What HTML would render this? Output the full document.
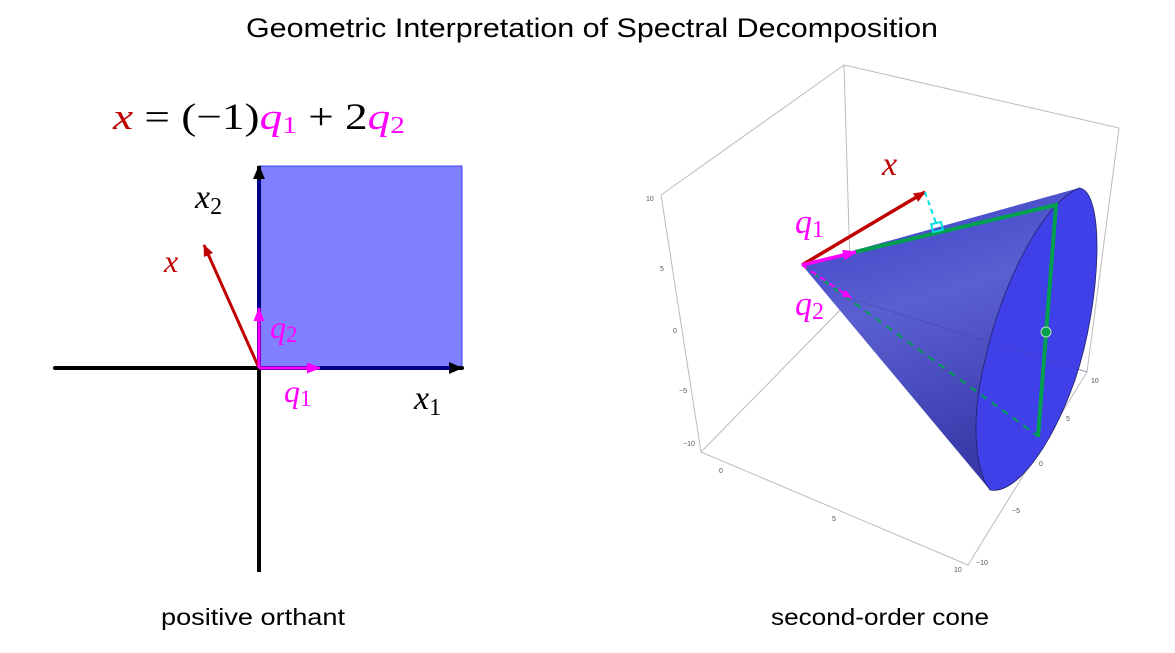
<!DOCTYPE html>
<html><head><meta charset="utf-8"><style>
html,body{margin:0;padding:0;background:#fff;}
svg{display:block;}
.m{font-family:"Liberation Serif",serif;font-style:italic;}
.t{font-family:"Liberation Sans",sans-serif;font-size:7px;fill:#555;}
</style></head><body>
<svg width="1175" height="653" viewBox="0 0 1175 653" xmlns="http://www.w3.org/2000/svg">
<defs>
<marker id="ak" markerWidth="14" markerHeight="12" refX="13" refY="6" orient="auto" markerUnits="userSpaceOnUse"><path d="M0,0 L14,6 L0,12 Z" fill="#000"/></marker>
<marker id="ar" markerWidth="12" markerHeight="10" refX="11" refY="5" orient="auto" markerUnits="userSpaceOnUse"><path d="M0,0 L12,5 L0,10 Z" fill="#c00000"/></marker>
<marker id="am" markerWidth="14" markerHeight="11" refX="13" refY="5.5" orient="auto" markerUnits="userSpaceOnUse"><path d="M0,0 L14,5.5 L0,11 Z" fill="#ff00ff"/></marker>
<marker id="am2" markerWidth="10" markerHeight="8" refX="9" refY="4" orient="auto" markerUnits="userSpaceOnUse"><path d="M0,0 L10,4 L0,8 Z" fill="#ff00ff"/></marker>
<linearGradient id="cg" x1="0" y1="0" x2="0.3" y2="1">
<stop offset="0" stop-color="#3a3fc8"/><stop offset="0.45" stop-color="#5a5fd0"/><stop offset="1" stop-color="#3838a8"/></linearGradient>
</defs>
<text x="246" y="37" font-family="Liberation Sans,sans-serif" font-size="27" textLength="692" lengthAdjust="spacingAndGlyphs">Geometric Interpretation of Spectral Decomposition</text>

<!-- left -->
<text x="113" y="129" font-size="37" font-family="Liberation Serif,serif" textLength="292" lengthAdjust="spacingAndGlyphs"><tspan class="m" fill="#c00000">x</tspan><tspan> = (−1)</tspan><tspan class="m" fill="#ff00ff">q</tspan><tspan fill="#ff00ff" font-size="24" dy="4">1</tspan><tspan dy="-4"> + 2</tspan><tspan class="m" fill="#ff00ff">q</tspan><tspan fill="#ff00ff" font-size="24" dy="4">2</tspan></text>
<rect x="259" y="166" width="203" height="202" fill="#8080ff" stroke="#4040ff" stroke-width="1"/>
<line x1="55" y1="368" x2="462" y2="368" stroke="#000" stroke-width="4" stroke-linecap="round" marker-end="url(#ak)"/>
<line x1="259" y1="368" x2="450" y2="368" stroke="#00008b" stroke-width="4"/>
<line x1="259" y1="572" x2="259" y2="166" stroke="#000" stroke-width="4" marker-end="url(#ak)"/>
<line x1="259" y1="368" x2="259" y2="180" stroke="#00008b" stroke-width="4"/>
<line x1="259" y1="368" x2="204" y2="245" stroke="#c00000" stroke-width="3" marker-end="url(#ar)"/>
<line x1="259" y1="368" x2="259" y2="308" stroke="#ff00ff" stroke-width="3" marker-end="url(#am)"/>
<line x1="259" y1="368" x2="320" y2="368" stroke="#ff00ff" stroke-width="3" marker-end="url(#am)"/>
<text x="195" y="208" font-size="34" font-family="Liberation Serif,serif"><tspan class="m">x</tspan><tspan font-size="24" dy="6">2</tspan></text>
<text x="164" y="272" font-size="32" class="m" fill="#c00000">x</text>
<text x="270" y="338" font-size="32" font-family="Liberation Serif,serif" fill="#ff00ff"><tspan class="m">q</tspan><tspan font-size="23" dy="4">2</tspan></text>
<text x="284" y="402" font-size="32" font-family="Liberation Serif,serif" fill="#ff00ff"><tspan class="m">q</tspan><tspan font-size="23" dy="4">1</tspan></text>
<text x="414" y="409" font-size="34" font-family="Liberation Serif,serif"><tspan class="m">x</tspan><tspan font-size="24" dy="6">1</tspan></text>
<text x="161" y="625" font-family="Liberation Sans,sans-serif" font-size="23" textLength="184" lengthAdjust="spacingAndGlyphs">positive orthant</text>

<!-- right box back -->
<g stroke="#bbb" stroke-width="1" fill="none">
<path d="M661,195 L844,65 L1119,128"/>
<path d="M844,65 L851,299"/>
<path d="M851,299 L701,452"/>
<path d="M851,299 L1087,372"/>
<path d="M661,195 L701,452 L968,565 L1087,372 L1119,128"/>
</g>
<g class="t">
<text x="646" y="201">10</text><text x="660" y="271">5</text><text x="673" y="333">0</text><text x="679" y="393">−5</text><text x="683" y="446">−10</text>
<text x="719" y="473">0</text><text x="832" y="521">5</text><text x="954" y="572">10</text>
<text x="1091" y="383">10</text><text x="1066" y="421">5</text><text x="1039" y="466">0</text><text x="1012" y="513">−5</text><text x="976" y="565">−10</text>
</g>
<!-- cone -->
<path d="M802,265 L1079,188 C1105,190 1102,300 1075,380 C1050,450 1015,495 990,490 Z" fill="url(#cg)"/>
<path d="M1079,188 C1105,190 1102,300 1075,380 C1050,450 1015,495 990,490 C975,470 970,420 985,360 C1000,290 1040,205 1079,188 Z" fill="#4040e8" stroke="#222266" stroke-width="0.8"/>
<line x1="851" y1="299" x2="1087" y2="372" stroke="#333399" stroke-width="0.6" opacity="0.5"/>
<line x1="802" y1="265" x2="1038" y2="436" stroke="#00a050" stroke-width="2" stroke-dasharray="7,6"/>
<polyline points="855,252 1056,205 1038,437" fill="none" stroke="#00a050" stroke-width="4"/>
<circle cx="1046" cy="332" r="5" fill="#00a050" stroke="#c0e0c0" stroke-width="1"/>
<line x1="802" y1="265" x2="925" y2="192" stroke="#c00000" stroke-width="3.5" marker-end="url(#ar)"/>
<line x1="925" y1="192" x2="937" y2="226" stroke="#00e0e0" stroke-width="2" stroke-dasharray="5,4"/>
<rect x="932" y="223" width="10" height="8" fill="none" stroke="#00e0e0" stroke-width="2" transform="rotate(-14 937 227)"/>
<line x1="802" y1="265" x2="856" y2="252" stroke="#ff00ff" stroke-width="3.5" marker-end="url(#am)"/>
<line x1="802" y1="265" x2="851" y2="298" stroke="#ff00ff" stroke-width="2" stroke-dasharray="6,5" marker-end="url(#am2)"/>
<text x="882" y="175" font-size="34" class="m" fill="#c00000">x</text>
<text x="795" y="233" font-size="34" font-family="Liberation Serif,serif" fill="#ff00ff"><tspan class="m">q</tspan><tspan font-size="24" dy="4">1</tspan></text>
<text x="795" y="315" font-size="34" font-family="Liberation Serif,serif" fill="#ff00ff"><tspan class="m">q</tspan><tspan font-size="24" dy="4">2</tspan></text>
<text x="771" y="625" font-family="Liberation Sans,sans-serif" font-size="23" textLength="218" lengthAdjust="spacingAndGlyphs">second-order cone</text>
</svg>
</body></html>
